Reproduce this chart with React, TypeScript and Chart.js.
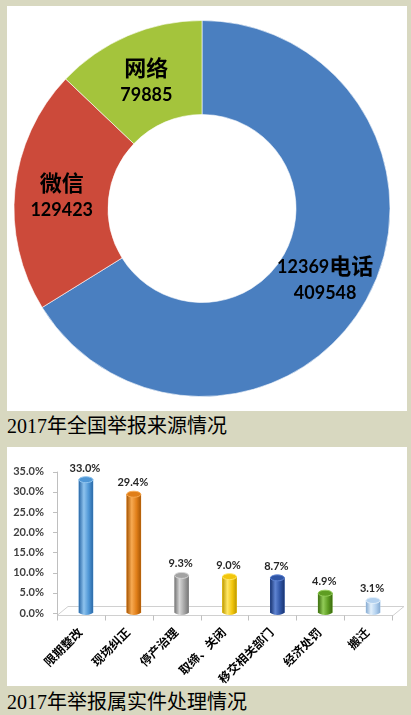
import React, { useEffect, useRef } from 'react';
import { Chart, registerables } from 'chart.js';

Chart.register(...registerables);

// ---- Data: report sources (doughnut) ----
const sourceLabels = ['12369电话', '微信', '网络'];
const sourceValues = [409548, 129423, 79885];
const sourceColors = ['#4A7FC0', '#CC4A3A', '#A4C43C'];

// ---- Data: handling of verified reports (bars) ----
const actionLabels = ['限期整改', '现场纠正', '停产治理', '取缔、关闭', '移交相关部门', '经济处罚', '搬迁'];
const actionValues = [33.0, 29.4, 9.3, 9.0, 8.7, 4.9, 3.1];
const barBase = ['#4F97D6', '#E07E18', '#A3A3A3', '#F2C60C', '#2F55A6', '#5E9D22', '#B3D1EF'];
const barLight = ['#8EC3EE', '#F7AA52', '#D6D6D6', '#FFE766', '#5F84D2', '#92CC58', '#E3F0FB'];
const barDark = ['#2C6AA8', '#A85806', '#777777', '#BE9A00', '#1B3673', '#3B6C0E', '#86ABD2'];

const titleTop = '2017年全国举报来源情况';
const titleBottom = '2017年举报属实件处理情况';

function cylGradient(ctx: CanvasRenderingContext2D, cx: number, half: number, i: number) {
  const g = ctx.createLinearGradient(cx - half, 0, cx + half, 0);
  g.addColorStop(0, barDark[i]);
  g.addColorStop(0.35, barLight[i]);
  g.addColorStop(0.7, barBase[i]);
  g.addColorStop(1, barDark[i]);
  return g;
}

const donutLabelPlugin = {
  id: 'donutLabels',
  afterDatasetsDraw(chart: any) {
    const ctx = chart.ctx;
    const meta = chart.getDatasetMeta(0);
    const values = chart.data.datasets[0].data;
    meta.data.forEach((arc: any, i: number) => {
      const p = arc.tooltipPosition(true);
      const name: string = chart.data.labels[i];
      const m = name.match(/^(\d*)(.*)$/) || ['', '', name];
      const numPart = m[1];
      const cjkPart = m[2];
      ctx.save();
      ctx.fillStyle = '#000';
      ctx.textBaseline = 'middle';
      ctx.textAlign = 'left';
      const numFont = 'bold 18px Lato, "Noto Sans CJK SC", sans-serif';
      const cjkFont = 'bold 22px "Noto Sans CJK SC", sans-serif';
      ctx.font = numFont;
      const w1 = numPart ? ctx.measureText(numPart).width : 0;
      ctx.font = cjkFont;
      const w2 = ctx.measureText(cjkPart).width;
      let x = p.x - (w1 + w2) / 2;
      const y1 = p.y - 11;
      if (numPart) {
        ctx.font = numFont;
        ctx.fillText(numPart, x, y1 + 1);
        x += w1;
      }
      ctx.font = cjkFont;
      ctx.fillText(cjkPart, x, y1);
      ctx.font = numFont;
      ctx.textAlign = 'center';
      ctx.fillText(String(values[i]), p.x, p.y + 16);
      ctx.restore();
    });
  },
};

const cylinderPlugin = {
  id: 'cylinders',
  beforeDatasetsDraw(chart: any) {
    const ctx = chart.ctx;
    const ys = chart.scales.y;
    const xs = chart.scales.x;
    const area = chart.chartArea;
    const yz = ys.getPixelForValue(0);
    const axisX = area.left - 5;
    const frontY = Math.round(yz + 2) + 0.5;
    const backY = Math.round(yz - 7.5) + 0.5;
    const depth = 11;
    const frontRight = area.right - 4;
    ctx.save();
    // floor
    ctx.strokeStyle = '#D0D0D0';
    ctx.lineWidth = 1;
    ctx.beginPath();
    ctx.moveTo(axisX, frontY);
    ctx.lineTo(frontRight, frontY);
    ctx.lineTo(frontRight + depth, backY);
    ctx.lineTo(axisX + depth, backY);
    ctx.closePath();
    ctx.stroke();
    // y axis line + tick marks
    ctx.strokeStyle = '#BFBFBF';
    ctx.beginPath();
    ctx.moveTo(axisX + 0.5, ys.getPixelForValue(ys.max));
    ctx.lineTo(axisX + 0.5, frontY);
    ys.ticks.forEach((_t: any, i: number) => {
      const ty = Math.round(ys.getPixelForTick(i)) + 0.5;
      ctx.moveTo(axisX - 4, ty);
      ctx.lineTo(axisX + 0.5, ty);
    });
    ctx.stroke();
    // x tick marks at category boundaries (front plane)
    ctx.beginPath();
    const n = xs.ticks.length;
    const step = xs.getPixelForTick(1) - xs.getPixelForTick(0);
    for (let i = 0; i <= n; i++) {
      const bx = Math.round(xs.getPixelForTick(0) - step / 2 + i * step - 5) + 0.5;
      ctx.moveTo(bx, frontY);
      ctx.lineTo(bx, frontY + 5);
    }
    ctx.stroke();
    ctx.restore();
  },
  afterDatasetsDraw(chart: any) {
    const ctx = chart.ctx;
    const meta = chart.getDatasetMeta(0);
    const values = chart.data.datasets[0].data;
    meta.data.forEach((bar: any, i: number) => {
      const { x, y, base, width } = bar.getProps(['x', 'y', 'base', 'width'], true);
      const rx = width / 2;
      const ry = 3;
      ctx.save();
      // cylinder body shading
      ctx.fillStyle = cylGradient(ctx, x, rx, i);
      ctx.fillRect(x - rx, y, width, base - 1 - y);
      // bottom rounded end
      ctx.beginPath();
      ctx.ellipse(x, base - 1, rx, ry, 0, 0, Math.PI);
      ctx.fill();
      // top cap
      ctx.beginPath();
      ctx.ellipse(x, y, rx, ry, 0, 0, Math.PI * 2);
      ctx.fillStyle = barBase[i];
      ctx.fill();
      ctx.strokeStyle = barLight[i];
      ctx.lineWidth = 1;
      ctx.stroke();
      // value label
      ctx.fillStyle = '#262626';
      ctx.font = 'bold 11px Lato, sans-serif';
      ctx.textAlign = 'center';
      ctx.textBaseline = 'alphabetic';
      ctx.fillText(Number(values[i]).toFixed(1) + '%', x - 1, y - 8);
      ctx.restore();
    });
  },
};

export default function App() {
  const donutRef = useRef<HTMLCanvasElement | null>(null);
  const barRef = useRef<HTMLCanvasElement | null>(null);

  useEffect(() => {
    if (!donutRef.current || !barRef.current) return;
    const donut = new Chart(donutRef.current, {
      type: 'doughnut',
      data: {
        labels: sourceLabels,
        datasets: [
          {
            data: sourceValues,
            backgroundColor: sourceColors,
            borderColor: 'rgba(255,255,255,0.6)',
            borderWidth: 1,
          },
        ],
      },
      options: {
        responsive: false,
        animation: false,
        cutout: '50%',
        layout: { padding: { left: 6, right: 16, top: 14, bottom: 14 } },
        plugins: { legend: { display: false }, tooltip: { enabled: false } },
      },
      plugins: [donutLabelPlugin],
    } as any);

    const bars = new Chart(barRef.current, {
      type: 'bar',
      data: {
        labels: actionLabels,
        datasets: [
          {
            data: actionValues,
            borderWidth: 0,
            barThickness: 14,
            backgroundColor: barBase,
          },
        ],
      },
      options: {
        responsive: false,
        animation: false,
        layout: { padding: { left: 0, right: 10, top: 17, bottom: 0 } },
        scales: {
          x: {
            grid: { display: false, drawTicks: false },
            border: { display: false },
            ticks: {
              autoSkip: false,
              maxRotation: 45,
              minRotation: 45,
              padding: 12,
              labelOffset: -6,
              color: '#000',
              font: { family: '"Noto Sans CJK SC", sans-serif', size: 12, weight: 'bold' },
            },
            afterFit: (s: any) => {
              s.height = 73;
            },
          },
          y: {
            min: 0,
            max: 35,
            grid: { display: false, drawTicks: false },
            border: { display: false },
            ticks: {
              stepSize: 5,
              padding: 18,
              color: '#404040',
              font: { family: 'Lato, sans-serif', size: 11, weight: 'bold' },
              callback: (v: any) => Number(v).toFixed(1) + '%',
            },
            afterFit: (s: any) => {
              s.width = 55;
            },
          },
        },
        plugins: { legend: { display: false }, tooltip: { enabled: false } },
      },
      plugins: [cylinderPlugin],
    } as any);

    return () => {
      donut.destroy();
      bars.destroy();
    };
  }, []);

  const captionStyle: React.CSSProperties = {
    position: 'absolute',
    left: 7,
    font: '20px "Liberation Serif", "Noto Sans CJK SC", serif',
    lineHeight: '26px',
    color: '#000',
    whiteSpace: 'nowrap',
  };

  return (
    <div
      style={{
        position: 'fixed',
        left: 0,
        top: 0,
        width: 411,
        height: 715,
        background: 'rgb(216,216,192)',
        overflow: 'hidden',
      }}
    >
      <div style={{ position: 'absolute', left: 7, top: 6, width: 400, height: 405, background: '#fff' }}>
        <canvas ref={donutRef} width={400} height={405} style={{ display: 'block', width: 400, height: 405 }} />
      </div>
      <div style={{ ...captionStyle, top: 413 }}>{titleTop}</div>
      <div style={{ position: 'absolute', left: 7, top: 447, width: 400, height: 239, background: '#fff' }}>
        <canvas ref={barRef} width={400} height={239} style={{ display: 'block', width: 400, height: 239 }} />
      </div>
      <div style={{ ...captionStyle, top: 689 }}>{titleBottom}</div>
    </div>
  );
}
